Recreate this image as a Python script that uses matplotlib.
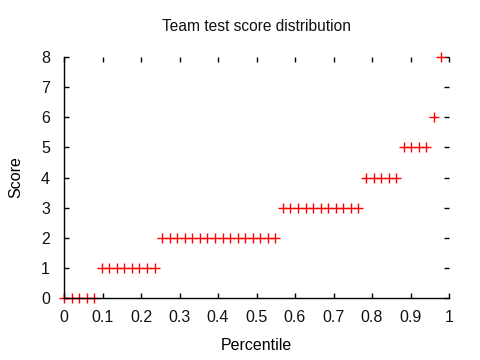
import matplotlib
matplotlib.use("Agg")
import matplotlib.pyplot as plt
import numpy as np

# team scores, sorted (one per team)
scores = [0, 0, 0, 0, 0,
          1, 1, 1, 1, 1, 1, 1, 1,
          2, 2, 2, 2, 2, 2, 2, 2, 2, 2, 2, 2, 2, 2, 2, 2,
          3, 3, 3, 3, 3, 3, 3, 3, 3, 3, 3,
          4, 4, 4, 4, 4,
          5, 5, 5, 5,
          6,
          8]
# percentile rank of each team
percentile = np.arange(len(scores)) / len(scores)

xticks = np.round(np.arange(0, 1.01, 0.1), 1)
xticklabels = ["0", "0.1", "0.2", "0.3", "0.4", "0.5", "0.6", "0.7", "0.8", "0.9", "1"]
yticks = range(0, 9)

plt.rcParams['font.family'] = ['Liberation Sans', 'DejaVu Sans']
plt.rcParams['font.size'] = 11.5
plt.rcParams['text.color'] = '#111111'

fig = plt.figure(figsize=(4.8, 3.6), dpi=100)
ax = fig.add_axes([64/480, 1 - 298/360, 385/480, 241/360])

ax.plot(percentile, scores, '+', color='red', markersize=6.5, markeredgewidth=1.0,
        clip_on=False)

ax.set_xlim(0, 1)
ax.set_ylim(0, 8)
ax.set_xticks(xticks)
ax.set_xticklabels(xticklabels)
ax.set_yticks(yticks)

ax.spines['top'].set_visible(False)
ax.spines['right'].set_visible(False)
for s in ['left', 'bottom']:
    ax.spines[s].set_linewidth(1.0)
ax.tick_params(direction='in', length=3.5, width=1.0, top=True, right=True,
               labeltop=False, labelright=False, labelcolor='#111111')
ax.tick_params(axis='x', pad=9)
ax.tick_params(axis='y', pad=10)

ax.set_title('Team test score distribution', fontsize=11.2, pad=19)
ax.set_xlabel('Percentile', labelpad=9)
ax.set_ylabel('Score', labelpad=13)

fig.savefig('out.png', dpi=100)
